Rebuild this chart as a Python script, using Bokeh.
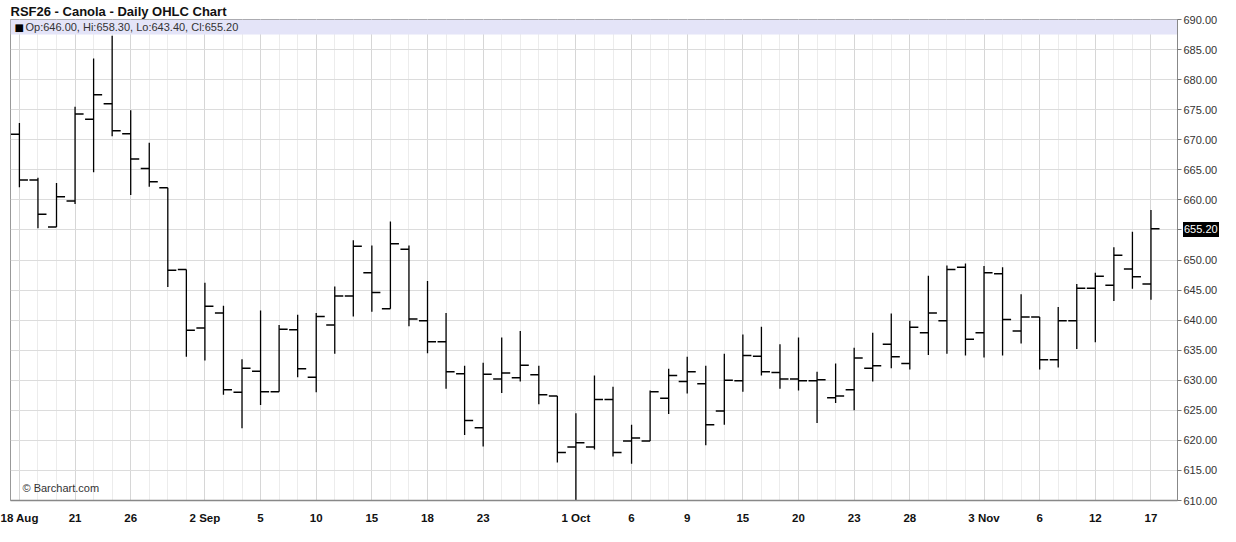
from bokeh.plotting import figure
from bokeh.models import FixedTicker, PrintfTickFormatter, Label, Range1d, ColumnDataSource, Div
from bokeh.layouts import column
from bokeh.embed import file_html
from bokeh.resources import INLINE

# ---- data (daily OHLC, RSF26 canola) ----
dates = ["18 Aug", "19 Aug", "20 Aug", "21 Aug", "22 Aug", "25 Aug", "26 Aug", "27 Aug", "28 Aug", "29 Aug",
         "2 Sep", "3 Sep", "4 Sep", "5 Sep", "8 Sep", "9 Sep", "10 Sep", "11 Sep", "12 Sep", "15 Sep",
         "16 Sep", "17 Sep", "18 Sep", "19 Sep", "22 Sep", "23 Sep", "24 Sep", "25 Sep", "26 Sep", "29 Sep",
         "1 Oct", "2 Oct", "3 Oct", "6 Oct", "7 Oct", "8 Oct", "9 Oct", "10 Oct", "14 Oct", "15 Oct",
         "16 Oct", "17 Oct", "20 Oct", "21 Oct", "22 Oct", "23 Oct", "24 Oct", "27 Oct", "28 Oct", "29 Oct",
         "30 Oct", "31 Oct", "3 Nov", "4 Nov", "5 Nov", "6 Nov", "7 Nov", "10 Nov", "12 Nov", "13 Nov",
         "14 Nov", "17 Nov"]
opens = [670.9, 663.3, 655.5, 659.8, 673.4, 676.0, 671.0, 665.2, 662.0, 648.4,
         638.7, 641.2, 628.0, 631.5, 628.1, 638.4, 630.5, 639.2, 644.0, 647.9,
         641.9, 651.8, 639.9, 636.4, 631.1, 622.1, 630.2, 630.4, 630.9, 627.4,
         618.9, 618.9, 626.8, 619.9, 619.9, 627.0, 629.8, 629.4, 624.9, 629.9,
         634.0, 631.3, 630.2, 629.9, 627.1, 628.4, 632.0, 636.0, 632.8, 637.9,
         639.9, 648.8, 637.9, 647.7, 638.2, 640.5, 633.4, 639.9, 645.3, 645.8,
         648.5, 646.0]
highs = [672.8, 663.7, 662.8, 675.5, 683.5, 687.3, 674.9, 669.5, 662.0, 648.4,
         646.2, 642.4, 633.5, 641.6, 639.2, 640.9, 641.2, 645.6, 653.3, 652.4,
         656.4, 652.4, 646.5, 641.2, 632.4, 632.9, 637.1, 638.2, 632.4, 627.4,
         624.5, 630.8, 628.9, 622.6, 628.3, 631.9, 633.9, 632.4, 634.4, 637.6,
         638.9, 636.0, 637.1, 631.4, 632.8, 635.4, 637.9, 641.1, 639.9, 647.4,
         649.1, 649.4, 649.0, 648.8, 644.3, 640.5, 642.2, 646.0, 647.9, 652.1,
         654.7, 658.3]
lows = [662.1, 655.3, 655.5, 659.3, 664.6, 670.6, 660.8, 662.2, 645.5, 633.9,
        633.3, 627.6, 622.0, 625.9, 628.1, 630.5, 628.0, 634.4, 640.6, 641.4,
        641.9, 639.0, 634.5, 628.6, 620.9, 619.0, 627.9, 629.8, 626.0, 616.3,
        610.0, 618.5, 617.3, 616.1, 619.9, 624.4, 627.8, 619.2, 622.6, 628.1,
        630.8, 628.6, 628.3, 622.9, 626.2, 625.0, 629.8, 632.0, 631.8, 634.2,
        634.4, 634.1, 633.8, 634.1, 636.1, 631.8, 632.1, 635.2, 636.3, 643.2,
        645.2, 643.4]
closes = [663.3, 657.6, 660.5, 674.3, 677.5, 671.5, 666.8, 663.0, 648.3, 638.3,
          642.3, 628.4, 632.0, 628.1, 638.5, 631.9, 640.6, 644.0, 652.3, 644.6,
          652.7, 640.2, 636.4, 631.4, 623.3, 631.0, 631.2, 632.5, 627.6, 618.0,
          619.6, 626.8, 618.0, 620.4, 628.1, 630.8, 631.4, 622.6, 630.0, 634.1,
          631.4, 630.2, 629.9, 630.1, 627.4, 633.7, 632.4, 633.9, 638.8, 641.2,
          648.4, 636.8, 647.9, 640.1, 640.5, 633.4, 639.9, 645.3, 647.3, 650.8,
          647.2, 655.2]

x_tick_idx = [0, 3, 6, 10, 13, 16, 19, 22, 25, 30, 33, 36, 39, 42, 45, 48, 52, 55, 58, 61]
x_tick_labels = ["18 Aug", "21", "26", "2 Sep", "5", "10", "15", "18", "23", "1 Oct",
                 "6", "9", "15", "20", "23", "28", "3 Nov", "6", "12", "17"]
y_ticks = [610, 615, 620, 625, 630, 635, 640, 645, 650, 655, 660, 665, 670, 675, 680, 685, 690]

title_text = "RSF26 - Canola - Daily OHLC Chart"
legend_text = "Op:646.00, Hi:658.30, Lo:643.40, Cl:655.20"
last_close_text = "655.20"

n = len(dates)
idx = list(range(n))
TW = 0.46  # tick half-width in bar units

src = ColumnDataSource(dict(
    x=idx, o=opens, h=highs, l=lows, c=closes,
    xl=[i - TW for i in idx], xr=[i + TW for i in idx],
))

X0, X1 = -0.48, 62.43
Y0, Y1 = 610, 690

p = figure(width=1220, height=526, output_backend="svg", toolbar_location=None,
           x_range=Range1d(X0, X1), y_range=Range1d(Y0, Y1),
           y_axis_location="right", min_border_left=10, min_border_right=38,
           min_border_top=19, min_border_bottom=26)
p.background_fill_color = "white"
p.border_fill_color = "white"
p.outline_line_color = "#999999"
p.outline_line_width = 1

p.title.text = title_text
p.title.text_font = "Liberation Sans"
p.title.text_font_style = "bold"
p.title.text_font_size = "13px"
p.title.text_color = "#111111"
p.title.standoff = 2
p.title.offset = 0

# header band
p.quad(left=[X0], right=[X1], bottom=[687.5], top=[Y1], fill_color="#e4e4f8", line_color=None)

# OHLC bars
p.segment(x0="x", y0="l", x1="x", y1="h", source=src, line_color="black", line_width=1.3)
p.segment(x0="xl", y0="o", x1="x", y1="o", source=src, line_color="black", line_width=1.5)
p.segment(x0="x", y0="c", x1="xr", y1="c", source=src, line_color="black", line_width=1.5)

# axes
xt = FixedTicker(ticks=x_tick_idx, minor_ticks=idx)
p.xaxis.ticker = xt
p.xaxis.major_label_overrides = {i: s for i, s in zip(x_tick_idx, x_tick_labels)}
p.xaxis.major_label_text_font = "Liberation Sans"
p.xaxis.major_label_text_font_style = "bold"
p.xaxis.major_label_text_font_size = "11.5px"
p.xaxis.major_label_text_color = "#111111"
p.xaxis.major_tick_line_color = None
p.xaxis.minor_tick_line_color = None
p.xaxis.axis_line_color = "#888888"
p.xaxis.axis_line_width = 1.5
p.xaxis.major_label_standoff = 5

p.yaxis.ticker = FixedTicker(ticks=y_ticks)
p.yaxis.formatter = PrintfTickFormatter(format="%.2f")
p.yaxis.major_label_text_font = "Liberation Sans"
p.yaxis.major_label_text_font_size = "11px"
p.yaxis.major_label_text_color = "#333333"
p.yaxis.major_tick_out = 4
p.yaxis.major_tick_in = 0
p.yaxis.minor_tick_line_color = None
p.yaxis.major_tick_line_color = "#777777"
p.yaxis.axis_line_color = "#888888"
p.yaxis.major_label_standoff = 2

p.xgrid.ticker = xt
p.xgrid.grid_line_color = "#d6d6d6"
p.xgrid.minor_grid_line_color = "#ececec"
p.ygrid.grid_line_color = "#dcdcdc"

# texts inside frame
p.add_layout(Label(x=X0, y=688.75, x_offset=4, text="\u25A0",
                   text_font="DejaVu Sans", text_font_size="10px", text_color="black",
                   text_baseline="middle"))
p.add_layout(Label(x=X0, y=688.75, x_offset=15, text=legend_text,
                   text_font="Liberation Sans", text_font_size="11px", text_color="#333333",
                   text_baseline="middle"))
p.add_layout(Label(x=X0, y=Y0, x_offset=12, y_offset=7, text="\u00A9 Barchart.com",
                   text_font="Liberation Sans", text_font_size="11px", text_color="#333333",
                   text_baseline="bottom"))

# last close marker over the price axis
marker = Div(text=last_close_text, width=36, height=15, margin=(0, 0, 0, 0),
             styles={"position": "absolute", "left": "1183px", "top": "222px",
                     "background-color": "black", "color": "white",
                     "font-family": "Liberation Sans", "font-size": "11px",
                     "line-height": "15px", "padding": "0px 1px", "z-index": "10"})
layout = column(p, marker, styles={"position": "relative"})

open("out.html", "w").write(file_html(layout, INLINE))
